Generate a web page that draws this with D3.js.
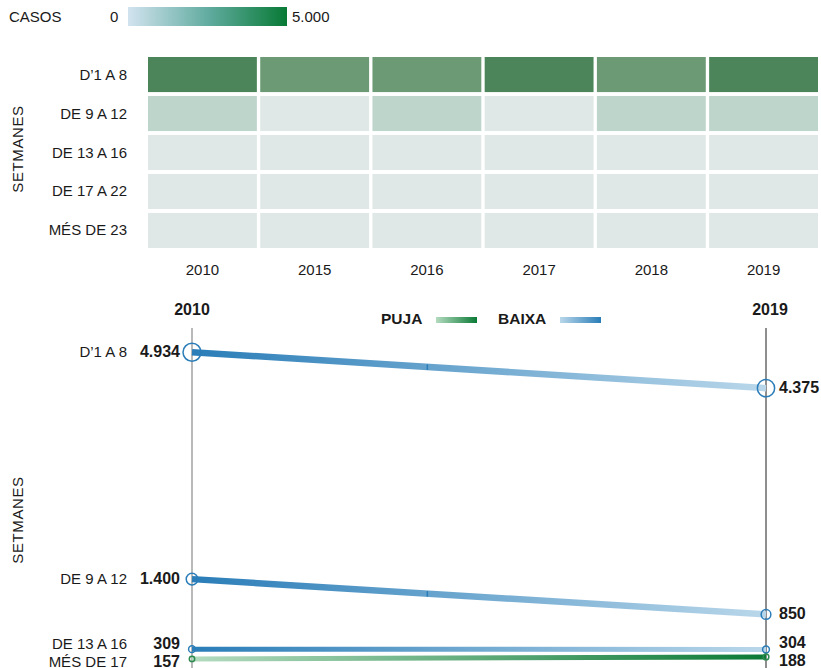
<!DOCTYPE html>
<html>
<head>
<meta charset="utf-8">
<script src="https://cdn.jsdelivr.net/npm/d3@7"></script>
<style>
  body { margin: 0; background: #fff; }
  svg text { font-family: "Liberation Sans", Arial, sans-serif; fill: #1a1a1a; }
</style>
</head>
<body>
<svg id="canvas" width="821" height="668"></svg>
<script>
// heatmap data
let years = ['2010', '2015', '2016', '2017', '2018', '2019']
let weekGroups = ['D\u20191 A 8', 'DE 9 A 12', 'DE 13 A 16', 'DE 17 A 22', 'MÉS DE 23']
let cases1to8 = [4934, 3900, 3950, 4500, 3850, 4375]
let cases9to12 = [1400, 700, 1000, 720, 950, 850]
let cases13to16 = [309, 280, 300, 290, 310, 304]
let cases17to22 = [110, 100, 120, 105, 115, 125]
let casesOver23 = [47, 40, 45, 50, 52, 63]
let heatColors = ['#dfe8e6', '#bed5cb', '#6b9a75', '#4b8559']
let heatThresholds = [800, 3000, 4200]

// slope data
let slopeGroups = ['D\u20191 A 8', 'DE 9 A 12', 'DE 13 A 16', 'MÉS DE 17']
let slopeFirst = [4934, 1400, 309, 157]
let slopeLast = [4375, 850, 304, 188]
let slopeYears = [2010, 2019]

let svg = d3.select('#canvas')
let defs = svg.append('defs')

let addGradient = (id, stops, x1, x2) => {
  let g = defs.append('linearGradient').attr('id', id)
  if (x1 !== undefined) {
    g.attr('gradientUnits', 'userSpaceOnUse').attr('x1', x1).attr('x2', x2).attr('y1', 0).attr('y2', 0)
  }
  stops.forEach((c, i) => {
    g.append('stop').attr('offset', (i / (stops.length - 1) * 100) + '%').attr('stop-color', c)
  })
}

let fmt = (v) => d3.format(',')(v).replace(',', '.')

// ---------- legend ----------
addGradient('casosGrad', ['#d2e3ef', '#62aca1', '#087a35'])
svg.append('text').attr('x', 9).attr('y', 22).attr('font-size', 15).text('CASOS')
svg.append('text').attr('x', 110).attr('y', 22).attr('font-size', 15).text('0')
svg.append('rect').attr('x', 128).attr('y', 7).attr('width', 159).attr('height', 19).attr('fill', 'url(#casosGrad)')
svg.append('text').attr('x', 292).attr('y', 22).attr('font-size', 15).text(fmt(5000))

// ---------- heatmap ----------
let rows = [cases1to8, cases9to12, cases13to16, cases17to22, casesOver23]
let cells = []
rows.forEach((row, r) => {
  row.forEach((v, c) => cells.push({ group: weekGroups[r], year: years[c], value: v }))
})

let xHeat = d3.scaleBand().domain(years).range([148, 818]).paddingInner(0.03)
let yHeat = d3.scaleBand().domain(weekGroups).range([57, 248]).paddingInner(0.1)
let heatColor = d3.scaleThreshold().domain(heatThresholds).range(heatColors)

svg.selectAll('rect.cell')
  .data(cells)
  .enter()
  .append('rect')
  .attr('class', 'cell')
  .attr('x', (d) => xHeat(d.year))
  .attr('y', (d) => yHeat(d.group))
  .attr('width', xHeat.bandwidth())
  .attr('height', yHeat.bandwidth())
  .attr('fill', (d) => heatColor(d.value))

svg.selectAll('text.rowLabel')
  .data(weekGroups)
  .enter()
  .append('text')
  .attr('class', 'rowLabel')
  .attr('x', 127)
  .attr('y', (d) => yHeat(d) + yHeat.bandwidth() / 2 + 5)
  .attr('text-anchor', 'end')
  .attr('font-size', 15)
  .text((d) => d)

svg.selectAll('text.yearLabel')
  .data(years)
  .enter()
  .append('text')
  .attr('class', 'yearLabel')
  .attr('x', (d) => xHeat(d) + xHeat.bandwidth() / 2)
  .attr('y', 275)
  .attr('text-anchor', 'middle')
  .attr('font-size', 15)
  .text((d) => d)

svg.append('text')
  .attr('transform', 'translate(23, 149) rotate(-90)')
  .attr('text-anchor', 'middle')
  .attr('font-size', 15)
  .attr('letter-spacing', 0.6)
  .text('SETMANES')

// ---------- slope chart ----------
let xSlope = d3.scaleLinear().domain([2010, 2019]).range([192, 766])
let ySlope = d3.scaleLinear().domain([0, 5000]).range([669, 348])
let rScale = d3.scalePow().exponent(0.35).domain([0, 4934]).range([0, 9])
let widthScale = d3.scaleThreshold().domain([1000]).range([5, 6.5])

let blueStops = ['#2a7db8', '#b9d7ea']
let greenStops = ['#b3dbbf', '#0b7a35']
addGradient('baixaGrad', blueStops, xSlope(2010), xSlope(2019))
addGradient('pujaGrad', greenStops, xSlope(2010), xSlope(2019))
addGradient('baixaLeg', blueStops.slice().reverse())
addGradient('pujaLeg', greenStops)

let slopes = slopeGroups.map((g, i) => ({
  group: g, first: slopeFirst[i], last: slopeLast[i], up: slopeLast[i] > slopeFirst[i]
}))

// year axis lines
slopeYears.forEach((yr, i) => {
  svg.append('line')
    .attr('x1', xSlope(yr)).attr('x2', xSlope(yr))
    .attr('y1', 328).attr('y2', 668)
    .attr('stroke', i === 0 ? '#8a8a8a' : '#444')
    .attr('stroke-width', 1.2)
  svg.append('text')
    .attr('x', xSlope(yr) + (i === 0 ? 0 : 4))
    .attr('y', 315)
    .attr('text-anchor', 'middle')
    .attr('font-size', 16)
    .attr('font-weight', 'bold')
    .text(yr)
})

// legend
svg.append('text').attr('x', 381).attr('y', 324).attr('font-size', 15.5).attr('font-weight', 'bold').text('PUJA')
svg.append('rect').attr('x', 436).attr('y', 317).attr('width', 41).attr('height', 6).attr('fill', 'url(#pujaLeg)')
svg.append('text').attr('x', 498).attr('y', 324).attr('font-size', 15.5).attr('font-weight', 'bold').text('BAIXA')
svg.append('rect').attr('x', 560).attr('y', 317).attr('width', 41).attr('height', 6).attr('fill', 'url(#baixaLeg)')

// lines
svg.selectAll('line.slope')
  .data(slopes)
  .enter()
  .append('line')
  .attr('class', 'slope')
  .attr('x1', xSlope(2010))
  .attr('x2', xSlope(2019))
  .attr('y1', (d) => ySlope(d.first))
  .attr('y2', (d) => ySlope(d.last) + 0.01)
  .attr('stroke', (d) => d.up ? 'url(#pujaGrad)' : 'url(#baixaGrad)')
  .attr('stroke-width', (d) => widthScale(d.first))

// small ticks along the thick falling lines
let tickT = 0.41
svg.selectAll('line.midTick')
  .data(slopes.filter((d) => !d.up && d.first > 1000))
  .enter()
  .append('line')
  .attr('class', 'midTick')
  .attr('x1', xSlope(2010 + tickT * 9))
  .attr('x2', xSlope(2010 + tickT * 9))
  .attr('y1', (d) => ySlope(d.first + (d.last - d.first) * tickT) - 2.5)
  .attr('y2', (d) => ySlope(d.first + (d.last - d.first) * tickT) + 3)
  .attr('stroke', '#2a7db8')
  .attr('stroke-width', 1.5)

// end circles
slopes.forEach((d) => {
  [[2010, d.first], [2019, d.last]].forEach(([yr, v]) => {
    svg.append('circle')
      .attr('cx', xSlope(yr))
      .attr('cy', ySlope(v))
      .attr('r', rScale(v))
      .attr('fill', 'none')
      .attr('stroke', d.up ? '#2e8b50' : '#2a7db8')
      .attr('stroke-width', 1.5)
  })
})

// label positions with simple collision avoidance
let spread = (vals) => {
  let ys = vals.map((v) => ySlope(v))
  for (let i = 0; i < ys.length - 1; i++) {
    if (ys[i + 1] - ys[i] < 18) {
      let mid = (ys[i] + ys[i + 1]) / 2
      ys[i] = mid - 10
      ys[i + 1] = mid + 8
    }
  }
  return ys
}
let leftY = spread(slopeFirst)
let rightY = spread(slopeLast)

slopes.forEach((d, i) => {
  svg.append('text')
    .attr('x', 127).attr('y', leftY[i] + 5)
    .attr('text-anchor', 'end').attr('font-size', 15)
    .text(d.group)
  svg.append('text')
    .attr('x', 180).attr('y', leftY[i] + 5)
    .attr('text-anchor', 'end').attr('font-size', 16).attr('font-weight', 'bold')
    .text(fmt(d.first))
  svg.append('text')
    .attr('x', 779).attr('y', rightY[i] + 5)
    .attr('font-size', 16).attr('font-weight', 'bold')
    .text(fmt(d.last))
})

svg.append('text')
  .attr('transform', 'translate(23, 520) rotate(-90)')
  .attr('text-anchor', 'middle')
  .attr('font-size', 15)
  .attr('letter-spacing', 0.6)
  .text('SETMANES')
</script>
</body>
</html>
